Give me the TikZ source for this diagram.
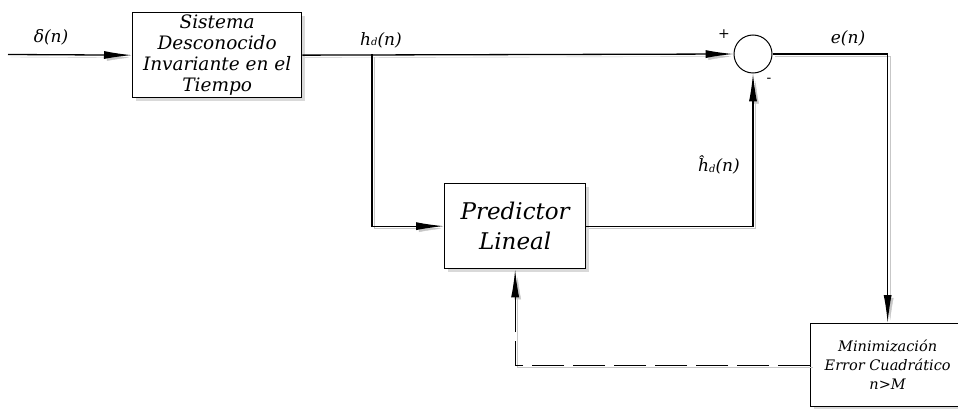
\documentclass[tikz,border=0pt]{standalone}
\usepackage{fontspec}
\setmainfont{DejaVu Serif}
\usetikzlibrary{arrows.meta,shadows}
\begin{document}
\begin{tikzpicture}[x=1pt,y=-1pt,
  shd/.style={preaction={draw=black!22,transform canvas={shift={(2.5pt,-2.5pt)}}}},
  blk/.style={draw,line width=1.3pt,fill=white,inner sep=0pt,align=center,
    drop shadow={shadow xshift=3pt,shadow yshift=-3pt,opacity=0.3}},
  arr/.style={line width=1.3pt,shd,-{Latex[length=28pt,width=8pt]}},
  dashw/.style={line width=1.3pt,shd,dash pattern=on 32pt off 9pt},
  lbl/.style={font=\itshape\fontsize{17}{18}\selectfont},
  sub/.style={},
  sgn/.style={font=\fontsize{14}{14}\selectfont}]
\useasboundingbox (0,0) rectangle (958,409);
\node[blk, minimum width=169pt, minimum height=85pt, anchor=north west,
  font=\itshape\fontsize{18.5}{21}\selectfont] (sys) at (132,12)
  {Sistema\\Desconocido\\Invariante en el\\Tiempo};
\node[blk, minimum width=141pt, minimum height=85pt, anchor=north west,
  font=\itshape\fontsize{23}{30}\selectfont] (pred) at (444,183)
  {Predictor\\Lineal};
\node[blk, minimum width=154pt, minimum height=83pt, anchor=north west,
  font=\itshape\fontsize{14.5}{19}\selectfont] (minb) at (810,323)
  {Minimización\\Error Cuadrático\\n>M};
\node[draw,circle,line width=1pt,minimum size=38pt,inner sep=0pt,fill=white] (sum) at (753,54) {};
\coordinate (in) at (8,54.5);
\coordinate (br) at (372,54.5);
\draw[arr] (in) -- (sys.west);
\draw[arr] (sys.east) -- (sum.west);
\draw[arr] (br) |- (pred.west);
\draw[arr] (pred.east) -| (sum.south);
\draw[arr] (sum.east) -| (minb.north);
\draw[dashw] (minb.west) -| ([yshift=-40pt]pred.south);
\draw[arr] ([yshift=-40pt]pred.south) -- (pred.south);
\node[lbl] (ldelta) at (51,37) {δ(n)};
\node[lbl] (lhd) at (381,40) {h\raisebox{-0.5pt}{\fontsize{10}{10}\selectfont d}(n)};
\node[lbl] (len) at (848,38) {e(n)};
\node[lbl] (lhat) at (719,165) {ĥ\raisebox{-0.5pt}{\fontsize{10}{10}\selectfont d}(n)};
\node[sgn] (lplus) at (724,34) {+};
\node[sgn] (lminus) at (769,80) {-};
\end{tikzpicture}
\end{document}
